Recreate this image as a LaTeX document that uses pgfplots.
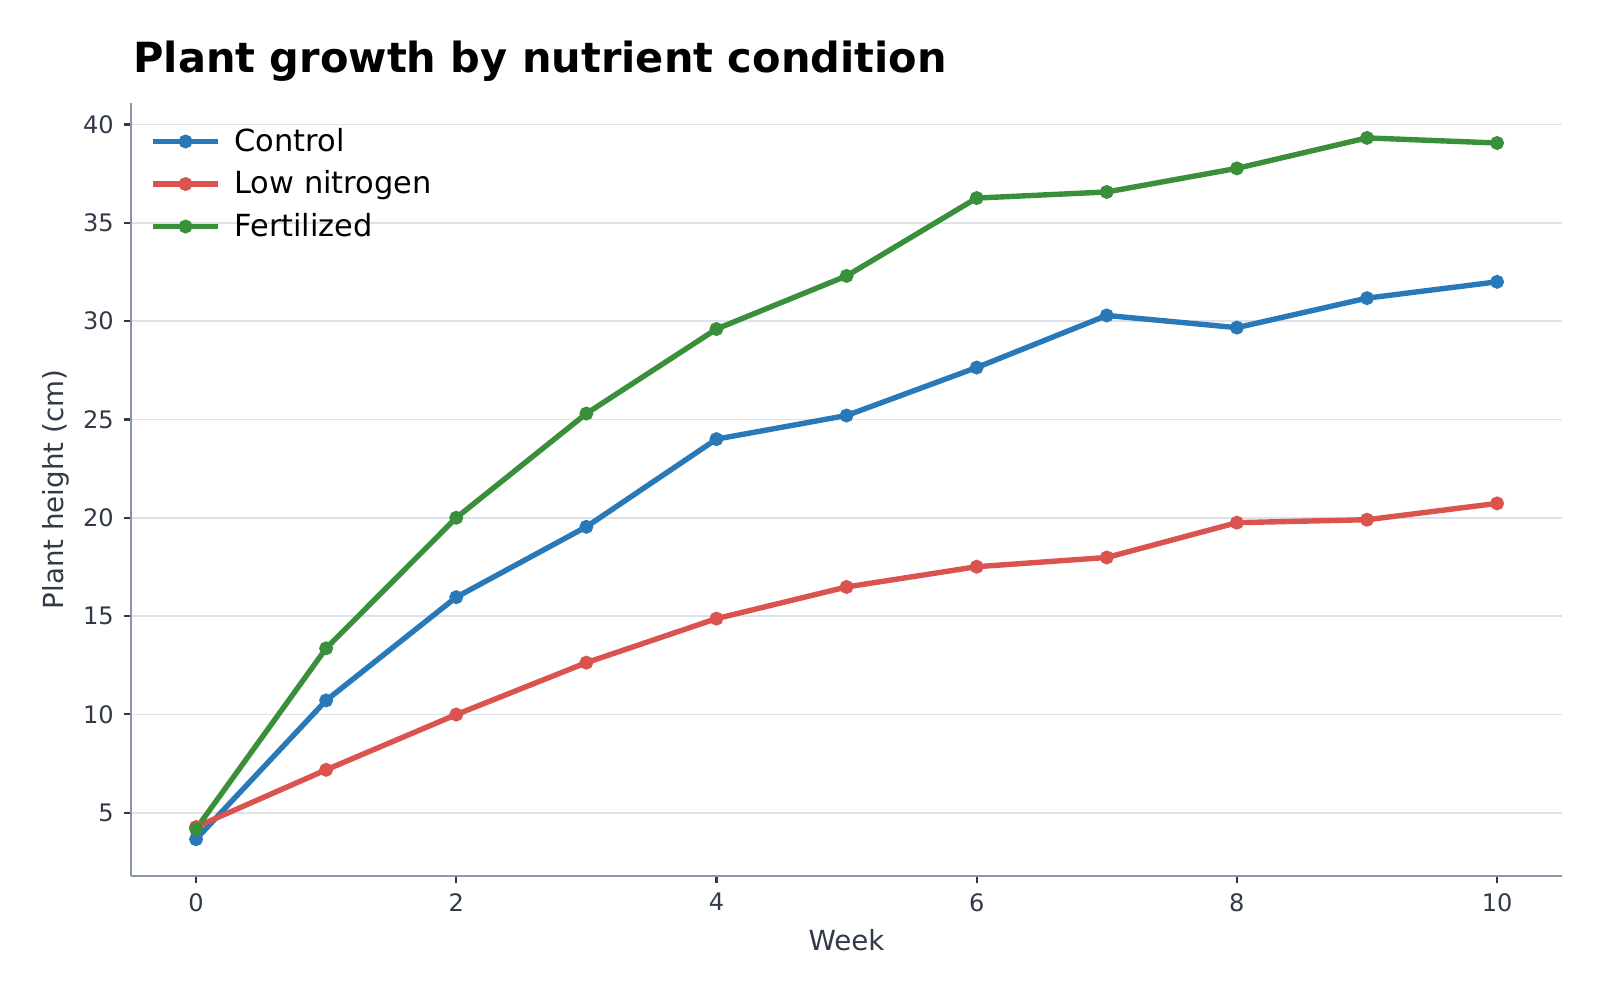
\documentclass[border=0pt]{standalone}
\usepackage{pgfplots}
\pgfplotsset{compat=1.18}
\usepackage{fontspec}
\setmainfont{DejaVu Sans}
\definecolor{cblue}{RGB}{41,120,184}
\definecolor{cred}{RGB}{218,83,78}
\definecolor{cgreen}{RGB}{58,143,58}
\definecolor{spine}{RGB}{139,149,168}
\definecolor{ticktxt}{RGB}{50,58,72}
\definecolor{gridc}{RGB}{222,226,232}
\pgfplotstableread{
x y
0 3.65
1 10.71
2 15.96
3 19.54
4 24.0
5 25.2
6 27.64
7 30.29
8 29.67
9 31.17
10 32.0
}\control
\pgfplotstableread{
x y
0 4.27
1 7.18
2 9.99
3 12.63
4 14.87
5 16.48
6 17.51
7 17.98
8 19.75
9 19.9
10 20.73
}\lownit
\pgfplotstableread{
x y
0 4.17
1 13.36
2 20.0
3 25.3
4 29.6
5 32.3
6 36.26
7 36.57
8 37.77
9 39.32
10 39.06
}\fert
\begin{document}
\begin{tikzpicture}
\useasboundingbox (0,0) rectangle (578pt,361.25pt);
\node[anchor=base west,font=\bfseries\fontsize{15}{18}\selectfont,inner sep=0pt] at (48pt,335.2pt) {Plant growth by nutrient condition};
\begin{axis}[
  at={(47.32pt,44.8pt)}, anchor=south west,
  scale only axis, width=517pt, height=279.2pt,
  xmin=-0.5, xmax=10.5, ymin=1.78, ymax=41.09,
  xtick={0,2,4,6,8,10}, ytick={5,10,15,20,25,30,35,40},
  axis x line*=bottom, axis y line*=left,
  axis line style={spine, line width=0.8pt, -},
  tick style={ticktxt, line width=0.8pt},
  tick align=outside, major tick length=2.7pt,
  ymajorgrids, grid style={gridc, line width=0.6pt},
  ticklabel style={font=\fontsize{8.7}{10}\selectfont, text=ticktxt},
  /pgf/number format/assume math mode=true,
  xlabel={Week}, ylabel={Plant height (cm)},
  label style={font=\fontsize{10}{12}\selectfont, text=ticktxt},
  xlabel style={yshift=0.5pt},
  ylabel style={yshift=-1.7pt},
  legend style={draw=none, fill=none, at={(0.0075,0.983)}, anchor=north west,
    font=\fontsize{11}{13}\selectfont, row sep=1.5pt,
    nodes={inner xsep=5pt}},
  legend cell align=left,
  legend image code/.code={
    \draw[#1, mark=none] (0cm,0cm) -- (0.82cm,0cm);
    \draw[#1, only marks] plot coordinates {(0.41cm,0cm)};
  },
  every axis plot/.append style={line width=1.95pt, mark=*, mark size=1.5pt},
  clip=false,
]
\addplot[cblue, mark options={fill=cblue, draw=cblue}] table {\control};
\addlegendentry{Control}
\addplot[cred, mark options={fill=cred, draw=cred}] table {\lownit};
\addlegendentry{Low nitrogen}
\addplot[cgreen, mark options={fill=cgreen, draw=cgreen}] table {\fert};
\addlegendentry{Fertilized}
\end{axis}
\end{tikzpicture}
\end{document}
